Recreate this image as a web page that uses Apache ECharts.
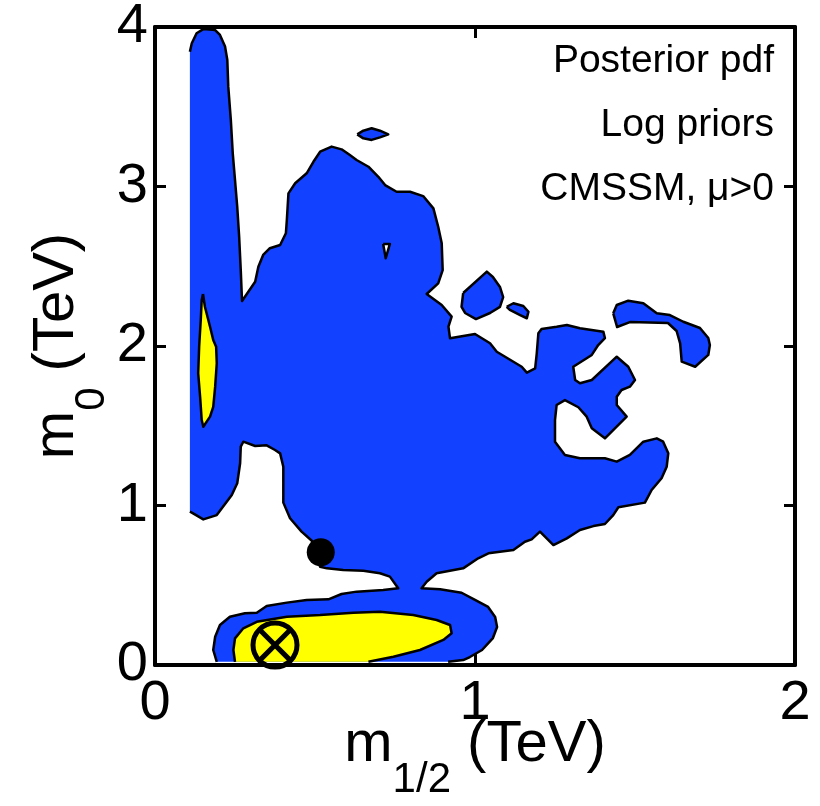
<!DOCTYPE html>
<html>
<head>
<meta charset="utf-8">
<script src="https://cdn.jsdelivr.net/npm/echarts@6/dist/echarts.min.js"></script>
<style>
html,body{margin:0;padding:0;background:#fff;}
#chart{width:820px;height:806px;}
</style>
</head>
<body>
<div id="chart"></div>
<script>
// ---- Data (TeV) ----
var xTicks = [0, 1, 2];
var yTicks = [0, 1, 2, 3, 4];
var annotations = ['Posterior pdf', 'Log priors', 'CMSSM, \u03bc>0'];

// 95% (outer, blue) credible region: main connected region
var blueMain = [
[0.109,3.845],[0.115,3.898],[0.130,3.961],[0.151,3.987],[0.188,3.981],[0.203,3.950],[0.219,3.877],[0.226,3.793],[0.229,3.626],[0.237,3.417],[0.243,3.208],[0.250,3.041],[0.257,2.873],[0.263,2.685],[0.268,2.476],[0.272,2.282],[0.313,2.403],[0.323,2.497],[0.338,2.571],[0.359,2.613],[0.391,2.633],[0.409,2.707],[0.412,2.790],[0.417,2.957],[0.438,3.020],[0.474,3.083],[0.495,3.155],[0.516,3.218],[0.552,3.250],[0.583,3.233],[0.609,3.197],[0.630,3.166],[0.667,3.124],[0.698,3.061],[0.719,3.009],[0.755,2.967],[0.797,2.967],[0.838,2.940],[0.870,2.863],[0.885,2.748],[0.896,2.644],[0.899,2.476],[0.885,2.393],[0.849,2.326],[0.896,2.257],[0.927,2.184],[0.917,2.121],[0.922,2.048],[1.000,2.075],[1.047,2.017],[1.068,1.964],[1.146,1.870],[1.162,1.833],[1.188,1.860],[1.193,1.954],[1.198,2.080],[1.208,2.107],[1.255,2.121],[1.287,2.132],[1.328,2.111],[1.401,2.090],[1.406,2.050],[1.385,2.006],[1.365,1.944],[1.307,1.870],[1.313,1.787],[1.328,1.766],[1.365,1.787],[1.443,1.933],[1.479,1.870],[1.500,1.787],[1.484,1.745],[1.458,1.724],[1.443,1.682],[1.443,1.630],[1.474,1.557],[1.406,1.421],[1.365,1.484],[1.349,1.557],[1.323,1.616],[1.281,1.661],[1.255,1.630],[1.250,1.536],[1.250,1.400],[1.281,1.317],[1.328,1.296],[1.406,1.296],[1.443,1.275],[1.484,1.317],[1.526,1.400],[1.568,1.421],[1.588,1.400],[1.604,1.327],[1.599,1.243],[1.583,1.171],[1.552,1.097],[1.531,1.018],[1.448,0.989],[1.432,0.940],[1.406,0.884],[1.370,0.871],[1.328,0.846],[1.287,0.794],[1.245,0.752],[1.203,0.836],[1.177,0.788],[1.156,0.773],[1.120,0.721],[1.042,0.700],[1.010,0.669],[0.963,0.606],[0.880,0.575],[0.849,0.522],[0.833,0.481],[0.891,0.475],[0.958,0.453],[1.000,0.408],[1.041,0.364],[1.063,0.301],[1.069,0.238],[1.056,0.169],[1.022,0.094],[0.984,0.050],[0.963,0.031],[0.916,0.020],[0.193,0.020],[0.182,0.094],[0.188,0.177],[0.203,0.251],[0.234,0.303],[0.281,0.324],[0.318,0.328],[0.349,0.370],[0.412,0.391],[0.474,0.408],[0.542,0.412],[0.583,0.445],[0.630,0.460],[0.713,0.470],[0.760,0.481],[0.734,0.554],[0.703,0.575],[0.651,0.591],[0.588,0.596],[0.537,0.606],[0.516,0.616],[0.490,0.779],[0.458,0.836],[0.422,0.920],[0.401,1.018],[0.401,1.243],[0.391,1.327],[0.375,1.348],[0.349,1.377],[0.313,1.373],[0.276,1.400],[0.268,1.369],[0.266,1.265],[0.257,1.139],[0.240,1.066],[0.193,0.940],[0.151,0.913],[0.115,0.955],[0.109,0.961]
];
var blueHole = [[0.713,2.640],[0.734,2.640],[0.721,2.550]];
var blueIslandTop = [[0.632,3.327],[0.651,3.350],[0.677,3.365],[0.703,3.350],[0.729,3.327],[0.703,3.308],[0.677,3.292],[0.651,3.302]];
var blueIslandMid = [[0.963,2.332],[1.037,2.466],[1.056,2.433],[1.078,2.370],[1.088,2.307],[1.078,2.245],[1.047,2.207],[1.003,2.169],[0.969,2.207],[0.958,2.246]];
var blueSliver = [[1.099,2.246],[1.120,2.268],[1.151,2.251],[1.167,2.215],[1.162,2.174],[1.141,2.194],[1.109,2.226]];
var blueIslandRight = [[1.432,2.205],[1.443,2.257],[1.479,2.284],[1.526,2.268],[1.568,2.205],[1.609,2.194],[1.651,2.152],[1.703,2.113],[1.729,2.050],[1.734,2.006],[1.729,1.944],[1.688,1.870],[1.646,1.902],[1.641,2.017],[1.630,2.094],[1.603,2.144],[1.484,2.150],[1.444,2.119]];

// 68% (inner, yellow) credible regions
var yellowStrip = [[0.150,2.326],[0.156,2.246],[0.172,2.121],[0.182,2.038],[0.191,1.996],[0.193,1.892],[0.188,1.745],[0.182,1.619],[0.172,1.557],[0.151,1.494],[0.146,1.536],[0.141,1.682],[0.135,1.829],[0.138,1.996],[0.143,2.163],[0.146,2.288]];
var yellowBottom = [[0.250,0.020],[0.245,0.094],[0.250,0.167],[0.276,0.230],[0.318,0.271],[0.412,0.303],[0.516,0.313],[0.620,0.328],[0.703,0.334],[0.807,0.313],[0.880,0.282],[0.922,0.251],[0.927,0.199],[0.901,0.157],[0.828,0.094],[0.745,0.052],[0.667,0.020]];

var bestFitPoint = [[0.375, 0.125]];
var posteriorMean = [[0.518, 0.707]];

// ---- Styling ----
var FONT = 'Liberation Sans, Arial, Helvetica, sans-serif';
var BLUE = '#1241ff';
var YELLOW = '#ffff00';

function onEdge(p) { return p[0] <= 0.11 || p[1] <= 0.021; }

function regionSeries(points, fill, z) {
  return {
    type: 'custom', coordinateSystem: 'cartesian2d', data: points, z: z,
    silent: true, clip: true, encode: {x: 0, y: 1},
    renderItem: function (params, api) {
      if (params.dataIndex !== 0) return null;
      var n = points.length;
      var pts = points.map(function (p) { return api.coord(p); });
      var children = [{type: 'polygon', shape: {points: pts}, style: {fill: fill, stroke: null}}];
      var runs = [], cur = [];
      for (var i = 0; i < n; i++) {
        var j = (i + 1) % n;
        if (onEdge(points[i]) && onEdge(points[j])) {
          if (cur.length > 1) runs.push(cur);
          cur = [];
        } else {
          if (!cur.length) cur.push(pts[i]);
          cur.push(pts[j]);
        }
      }
      if (cur.length > 1) runs.push(cur);
      runs.forEach(function (r) {
        children.push({type: 'polyline', shape: {points: r},
          style: {fill: null, stroke: '#000', lineWidth: 2.5, lineJoin: 'round'}});
      });
      return {type: 'group', children: children};
    }
  };
}

var axisLineStyle = {show: true, onZero: false, lineStyle: {color: '#000', width: 4}};
var axisTickStyle = {show: true, inside: true, length: 11, lineStyle: {color: '#000', width: 3}};
var titleRich = {
  a: {fontSize: 58, fontFamily: FONT, color: '#000', lineHeight: 62, verticalAlign: 'middle'},
  b: {fontSize: 42, fontFamily: FONT, color: '#000', lineHeight: 42, verticalAlign: 'middle', padding: [70, 0, 0, 0]}
};

var chart = echarts.init(document.getElementById('chart'), null, {renderer: 'canvas'});
chart.setOption({
  animation: false,
  backgroundColor: '#fff',
  grid: {left: 155, right: 25, top: 27, bottom: 141, containLabel: false, outerBoundsMode: 'none'},
  xAxis: [{
    type: 'value', min: xTicks[0], max: xTicks[xTicks.length - 1], interval: 1, position: 'bottom',
    axisLine: axisLineStyle, axisTick: axisTickStyle, splitLine: {show: false},
    axisLabel: {fontSize: 56, color: '#000', fontFamily: FONT, margin: 11},
    name: '{a|m}{b|1/2}{a| (TeV)}', nameLocation: 'middle', nameGap: 49, nameMoveOverlap: false,
    nameTextStyle: {rich: titleRich}
  }, {
    type: 'value', min: xTicks[0], max: xTicks[xTicks.length - 1], interval: 1, position: 'top',
    axisLine: axisLineStyle, axisTick: axisTickStyle, splitLine: {show: false}, axisLabel: {show: false}
  }],
  yAxis: [{
    type: 'value', min: yTicks[0], max: yTicks[yTicks.length - 1], interval: 1, position: 'left',
    axisLine: axisLineStyle, axisTick: axisTickStyle, splitLine: {show: false},
    axisLabel: {fontSize: 56, color: '#000', fontFamily: FONT, margin: 7},
    name: '{a|m}{b|0}{a| (TeV)}', nameLocation: 'middle', nameGap: 67, nameMoveOverlap: false,
    nameTextStyle: {rich: titleRich}
  }, {
    type: 'value', min: yTicks[0], max: yTicks[yTicks.length - 1], interval: 1, position: 'right',
    axisLine: axisLineStyle, axisTick: axisTickStyle, splitLine: {show: false}, axisLabel: {show: false}
  }],
  graphic: annotations.map(function (t, i) {
    return {type: 'text', right: 46, top: [42, 106, 170][i], z: 100,
      style: {text: t, fontSize: 39, fontFamily: FONT, fill: '#000'}};
  }),
  series: [
    regionSeries(blueMain, BLUE, 2),
    regionSeries(blueIslandTop, BLUE, 2),
    regionSeries(blueIslandMid, BLUE, 2),
    regionSeries(blueSliver, BLUE, 2),
    regionSeries(blueIslandRight, BLUE, 2),
    regionSeries(blueHole, '#ffffff', 3),
    regionSeries(yellowStrip, YELLOW, 4),
    regionSeries(yellowBottom, YELLOW, 4),
    {
      type: 'scatter', data: posteriorMean, symbol: 'circle', symbolSize: 28, z: 6,
      itemStyle: {color: '#000', opacity: 1}, silent: true
    },
    {
      type: 'custom', coordinateSystem: 'cartesian2d', data: bestFitPoint, z: 6, silent: true,
      encode: {x: 0, y: 1},
      renderItem: function (params, api) {
        var c = api.coord([api.value(0), api.value(1)]);
        var r = 22, d = r * Math.SQRT1_2;
        var st = {stroke: '#000', lineWidth: 5, fill: null};
        return {type: 'group', children: [
          {type: 'circle', shape: {cx: c[0], cy: c[1], r: r}, style: st},
          {type: 'line', shape: {x1: c[0] - d, y1: c[1] - d, x2: c[0] + d, y2: c[1] + d}, style: st},
          {type: 'line', shape: {x1: c[0] - d, y1: c[1] + d, x2: c[0] + d, y2: c[1] - d}, style: st}
        ]};
      }
    }
  ]
});
</script>
</body>
</html>
